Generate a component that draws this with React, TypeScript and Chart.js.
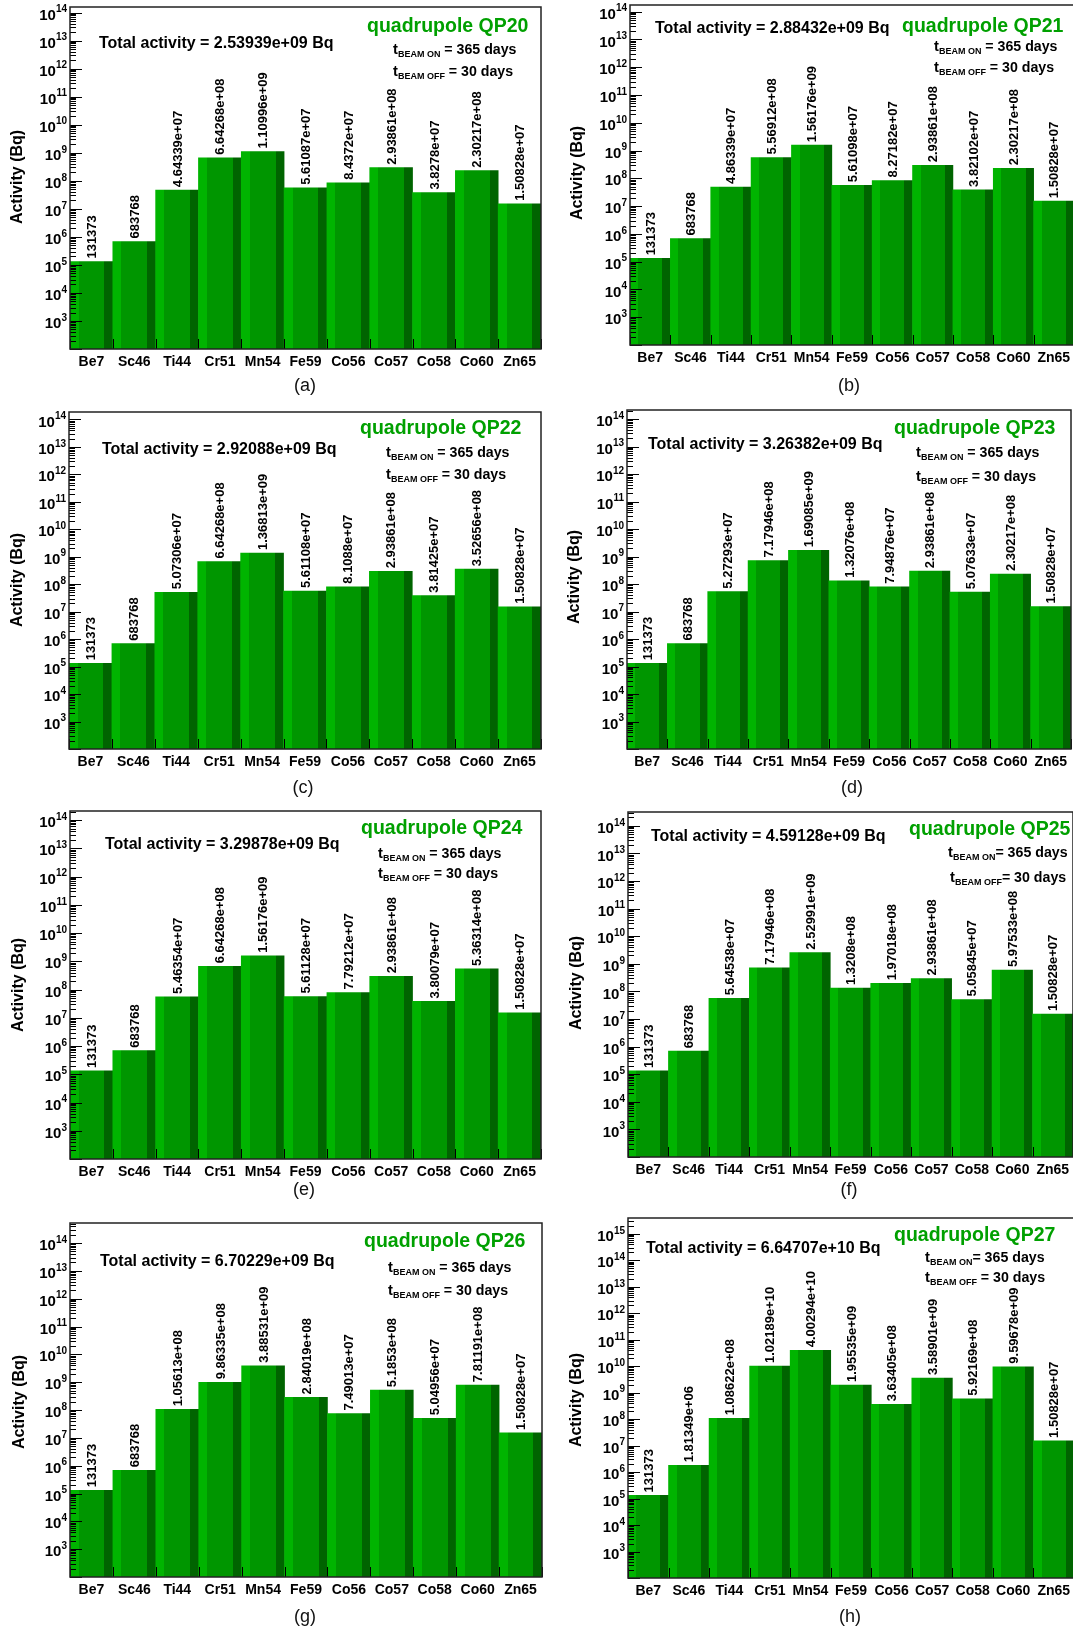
import React, { useEffect, useRef } from "react";
import { Chart, registerables } from "chart.js";

Chart.register(...registerables);

// ---------------- data ----------------
const isotopes = ["Be7", "Sc46", "Ti44", "Cr51", "Mn54", "Fe59", "Co56", "Co57", "Co58", "Co60", "Zn65"];

const activityQP20 = [131373, 683768, 4.64339e7, 6.64268e8, 1.10996e9, 5.61087e7, 8.4372e7, 2.93861e8, 3.8278e7, 2.30217e8, 1.50828e7];
const activityQP21 = [131373, 683768, 4.86339e7, 5.56912e8, 1.56176e9, 5.61098e7, 8.27182e7, 2.93861e8, 3.82102e7, 2.30217e8, 1.50828e7];
const activityQP22 = [131373, 683768, 5.07306e7, 6.64268e8, 1.36813e9, 5.61108e7, 8.1088e7, 2.93861e8, 3.81425e7, 3.52656e8, 1.50828e7];
const activityQP23 = [131373, 683768, 5.27293e7, 7.17946e8, 1.69085e9, 1.32076e8, 7.94876e7, 2.93861e8, 5.07633e7, 2.30217e8, 1.50828e7];
const activityQP24 = [131373, 683768, 5.46354e7, 6.64268e8, 1.56176e9, 5.61128e7, 7.79212e7, 2.93861e8, 3.80079e7, 5.36314e8, 1.50828e7];
const activityQP25 = [131373, 683768, 5.64538e7, 7.17946e8, 2.52991e9, 1.3208e8, 1.97018e8, 2.93861e8, 5.05845e7, 5.97533e8, 1.50828e7];
const activityQP26 = [131373, 683768, 1.05613e8, 9.86335e8, 3.88531e9, 2.84019e8, 7.49013e7, 5.1853e8, 5.04956e7, 7.81191e8, 1.50828e7];
const activityQP27 = [131373, 1.81349e6, 1.08622e8, 1.02189e10, 4.00294e10, 1.95535e9, 3.63405e8, 3.58901e9, 5.92169e8, 9.59678e9, 1.50828e7];

const quadrupoleNames = ["QP20", "QP21", "QP22", "QP23", "QP24", "QP25", "QP26", "QP27"];
const totalActivity = [2.53939e9, 2.88432e9, 2.92088e9, 3.26382e9, 3.29878e9, 4.59128e9, 6.70229e9, 6.64707e10];
const panelLetters = ["(a)", "(b)", "(c)", "(d)", "(e)", "(f)", "(g)", "(h)"];
const beamOnDays = 365;
const beamOffDays = 30;

// y tick label exponents (10^n)
const yLabelExps14 = [3, 4, 5, 6, 7, 8, 9, 10, 11, 12, 13, 14];
const yLabelExps15 = [3, 4, 5, 6, 7, 8, 9, 10, 11, 12, 13, 14, 15];
const yAxisMinExp = 2;
const yAxisMaxExp = [14.2, 14.24, 14.27, 14.33, 14.32, 14.5, 14.72, 15.6];

const allActivities = [activityQP20, activityQP21, activityQP22, activityQP23, activityQP24, activityQP25, activityQP26, activityQP27];

// ---------------- layout ----------------
type Layout = {
  cx: number; cy: number; cw: number; ch: number;
  L: number; T: number; R: number; B: number;
  total: [number, number]; quad: [number, number]; on: [number, number]; off: [number, number];
  ytitle: [number, number]; caption: [number, number];
  onEq: string; offEq: string;
};

const LW = 548;
const RX = 552;
const RW = 530;

const layouts: Layout[] = [
  { cx: 0, cy: 0, cw: LW, ch: 400, L: 70, T: 7, R: 541, B: 349, total: [99, 44], quad: [367, 27], on: [393, 50], off: [393, 72], ytitle: [18, 177], caption: [305, 386], onEq: " = ", offEq: " = " },
  { cx: RX, cy: 0, cw: RW, ch: 400, L: 630, T: 5, R: 1074, B: 345, total: [655, 29], quad: [902, 27], on: [934, 47], off: [934, 68], ytitle: [578, 173], caption: [849, 386], onEq: " = ", offEq: " = " },
  { cx: 0, cy: 400, cw: LW, ch: 400, L: 69, T: 412, R: 541, B: 749, total: [102, 450], quad: [360, 429], on: [386, 453], off: [386, 475], ytitle: [18, 580], caption: [303, 788], onEq: " = ", offEq: " = " },
  { cx: RX, cy: 400, cw: RW, ch: 400, L: 627, T: 410, R: 1071, B: 749, total: [648, 445], quad: [894, 429], on: [916, 453], off: [916, 477], ytitle: [575, 577], caption: [852, 788], onEq: " = ", offEq: " = " },
  { cx: 0, cy: 800, cw: LW, ch: 405, L: 70, T: 811, R: 541, B: 1159, total: [105, 845], quad: [361, 829], on: [378, 854], off: [378, 874], ytitle: [19, 985], caption: [304, 1190], onEq: " = ", offEq: " = " },
  { cx: RX, cy: 800, cw: RW, ch: 405, L: 628, T: 812, R: 1073, B: 1157, total: [651, 837], quad: [909, 830], on: [948, 853], off: [950, 878], ytitle: [577, 983], caption: [849, 1190], onEq: "= ", offEq: "= " },
  { cx: 0, cy: 1205, cw: LW, ch: 426, L: 70, T: 1223, R: 542, B: 1577, total: [100, 1262], quad: [364, 1242], on: [388, 1268], off: [388, 1291], ytitle: [20, 1402], caption: [305, 1617], onEq: " = ", offEq: " = " },
  { cx: RX, cy: 1205, cw: RW, ch: 426, L: 628, T: 1218, R: 1074, B: 1578, total: [646, 1249], quad: [894, 1236], on: [925, 1258], off: [925, 1278], ytitle: [577, 1400], caption: [850, 1617], onEq: "= ", offEq: " = " },
];

const FONT = '"Liberation Sans", Arial, Helvetica, sans-serif';
const LIGHT = "#00b400";
const MID = "#009600";
const DARK = "#006400";
const QUAD_GREEN = "#00a000";
const XH = 24;

function fmtG(v: number): string {
  const exp = Math.floor(Math.log10(Math.abs(v)));
  if (exp < -4 || exp >= 6) {
    const parts = v.toExponential(5).split("e");
    let m = parts[0];
    if (m.includes(".")) m = m.replace(/\.?0+$/, "");
    const en = parseInt(parts[1], 10);
    const ea = Math.abs(en);
    return m + "e" + (en < 0 ? "-" : "+") + (ea < 10 ? "0" + ea : String(ea));
  }
  const s = v.toPrecision(6);
  return s.includes(".") ? s.replace(/\.?0+$/, "") : s;
}

function Panel({ idx }: { idx: number }) {
  const ref = useRef<HTMLCanvasElement>(null);
  const lay = layouts[idx];
  useEffect(() => {
    const canvas = ref.current;
    if (!canvas) return;
    const values = allActivities[idx];
    const labelExps = idx === 7 ? yLabelExps15 : yLabelExps14;
    const topExp = yAxisMaxExp[idx];
    const ox = lay.cx;
    const oy = lay.cy;

    const barFill = (c: any) => {
      const chart = c.chart;
      const area = chart.chartArea;
      const xs = chart.scales && chart.scales.x;
      if (!area || !xs || c.dataIndex == null) return MID;
      const w = (area.right - area.left) / isotopes.length;
      const center = xs.getPixelForValue(c.dataIndex);
      const l = center - w / 2;
      const g = chart.ctx.createLinearGradient(l, 0, l + w, 0);
      g.addColorStop(0, LIGHT);
      g.addColorStop(0.2, LIGHT);
      g.addColorStop(0.2, MID);
      g.addColorStop(0.8, MID);
      g.addColorStop(0.8, DARK);
      g.addColorStop(1, DARK);
      return g;
    };

    const decor = {
      id: "decor" + idx,
      afterDraw(chart: any) {
        const ctx: CanvasRenderingContext2D = chart.ctx;
        const a = chart.chartArea;
        const ys = chart.scales.y;
        ctx.save();

        // value labels above bars
        const meta = chart.getDatasetMeta(0);
        ctx.fillStyle = "#000";
        ctx.font = `bold 13px ${FONT}`;
        meta.data.forEach((el: any, i: number) => {
          ctx.save();
          ctx.translate(el.x + 1, el.y - 3);
          ctx.rotate(-Math.PI / 2);
          ctx.textAlign = "left";
          ctx.textBaseline = "middle";
          ctx.fillText(fmtG(values[i]), 0, 0);
          ctx.restore();
        });

        // y ticks (inside)
        ctx.strokeStyle = "#000";
        ctx.lineWidth = 1;
        ctx.beginPath();
        for (let k = yAxisMinExp; k <= Math.floor(topExp); k++) {
          const y = Math.round(ys.getPixelForValue(Math.pow(10, k))) + 0.5;
          ctx.moveTo(a.left, y);
          ctx.lineTo(a.left + 12, y);
          for (let m = 2; m <= 9; m++) {
            const v = m * Math.pow(10, k);
            if (Math.log10(v) > topExp) break;
            const ym = Math.round(ys.getPixelForValue(v)) + 0.5;
            ctx.moveTo(a.left, ym);
            ctx.lineTo(a.left + 6, ym);
          }
        }
        // x ticks at bin edges
        const n = isotopes.length;
        const w = (a.right - a.left) / n;
        for (let i = 0; i <= n; i++) {
          const x = Math.round(a.left + i * w) + 0.5;
          ctx.moveTo(x, a.bottom);
          ctx.lineTo(x, a.bottom - 10);
        }
        ctx.stroke();

        // frame
        ctx.strokeStyle = "#222";
        ctx.lineWidth = 1.5;
        ctx.strokeRect(a.left, a.top, a.right - a.left, a.bottom - a.top);

        // y tick labels 10^n
        ctx.fillStyle = "#000";
        ctx.textAlign = "right";
        ctx.textBaseline = "middle";
        labelExps.forEach((e) => {
          const y = ys.getPixelForValue(Math.pow(10, e));
          const xr = a.left - 3;
          ctx.font = `bold 10px ${FONT}`;
          const es = String(e);
          const ew = ctx.measureText(es).width;
          ctx.fillText(es, xr, y - 3);
          ctx.font = `bold 15px ${FONT}`;
          ctx.fillText("10", xr - ew, y + 3);
        });

        // y title
        ctx.save();
        ctx.translate(lay.ytitle[0] - ox, lay.ytitle[1] - oy);
        ctx.rotate(-Math.PI / 2);
        ctx.textAlign = "center";
        ctx.textBaseline = "middle";
        ctx.font = `bold 16px ${FONT}`;
        ctx.fillText("Activity (Bq)", 0, 0);
        ctx.restore();

        // total activity
        ctx.textAlign = "left";
        ctx.textBaseline = "middle";
        ctx.font = `bold 16px ${FONT}`;
        ctx.fillStyle = "#000";
        ctx.fillText(`Total activity = ${fmtG(totalActivity[idx])} Bq`, lay.total[0] - ox, lay.total[1] - oy);

        // quadrupole name
        ctx.font = `bold 19.5px ${FONT}`;
        ctx.fillStyle = QUAD_GREEN;
        ctx.fillText(`quadrupole ${quadrupoleNames[idx]}`, lay.quad[0] - ox, lay.quad[1] - oy);

        // t_BEAM lines
        const drawT = (pos: [number, number], sub: string, eq: string, days: number) => {
          let x = pos[0] - ox;
          const y = pos[1] - oy;
          ctx.fillStyle = "#000";
          ctx.font = `bold 14.7px ${FONT}`;
          ctx.fillText("t", x, y);
          x += ctx.measureText("t").width;
          ctx.font = `bold 9px ${FONT}`;
          ctx.fillText(sub, x, y + 4.5);
          x += ctx.measureText(sub).width;
          ctx.font = `bold 14.2px ${FONT}`;
          ctx.fillText(`${eq}${days} days`, x, y);
        };
        drawT(lay.on, "BEAM ON", lay.onEq, beamOnDays);
        drawT(lay.off, "BEAM OFF", lay.offEq, beamOffDays);

        // caption
        ctx.textAlign = "center";
        ctx.font = `18px ${FONT}`;
        ctx.fillStyle = "#111";
        ctx.fillText(panelLetters[idx], lay.caption[0] - ox, lay.caption[1] - oy);

        ctx.restore();
      },
    };

    const chart = new Chart(canvas, {
      type: "bar",
      data: {
        labels: isotopes,
        datasets: [
          {
            data: values,
            backgroundColor: barFill as any,
            borderWidth: 0,
            categoryPercentage: 1,
            barPercentage: 1,
          },
        ],
      },
      options: {
        animation: false,
        responsive: false,
        devicePixelRatio: 1,
        events: [],
        layout: {
          padding: {
            left: lay.L - lay.cx,
            top: lay.T - lay.cy,
            right: lay.cx + lay.cw - lay.R,
            bottom: lay.cy + lay.ch - lay.B - XH,
          },
        },
        plugins: {
          legend: { display: false },
          tooltip: { enabled: false },
          title: { display: false },
        },
        scales: {
          x: {
            type: "category",
            offset: true,
            grid: { display: false, drawTicks: false },
            border: { display: false },
            ticks: {
              color: "#000",
              font: { family: FONT, size: 14, weight: "bold" },
              padding: 5,
              maxRotation: 0,
              minRotation: 0,
              autoSkip: false,
            },
            afterFit: (s: any) => {
              s.height = XH;
            },
          },
          y: {
            type: "logarithmic",
            display: false,
            bounds: "data",
            min: Math.pow(10, yAxisMinExp),
            max: Math.pow(10, topExp),
          },
        },
      } as any,
      plugins: [decor],
    });
    return () => chart.destroy();
  }, [idx]);

  return (
    <canvas
      ref={ref}
      width={lay.cw}
      height={lay.ch}
      style={{ position: "absolute", left: lay.cx, top: lay.cy, width: lay.cw, height: lay.ch }}
    />
  );
}

export default function App() {
  return (
    <div style={{ position: "absolute", left: 0, top: 0, width: 1073, height: 1631, background: "#fff", overflow: "hidden" }}>
      {layouts.map((_, i) => (
        <Panel key={i} idx={i} />
      ))}
    </div>
  );
}
